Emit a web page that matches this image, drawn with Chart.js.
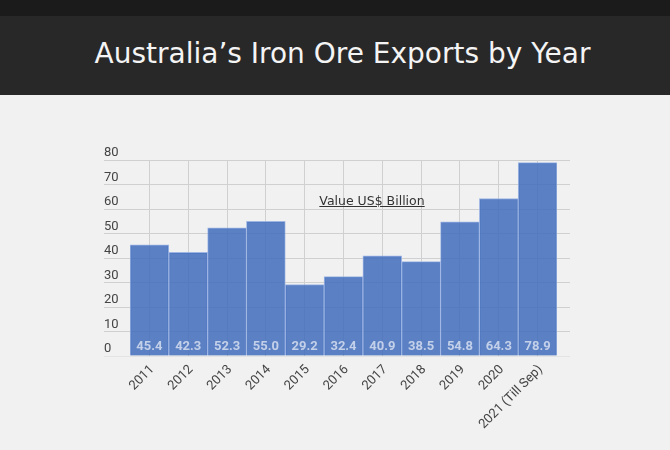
<!DOCTYPE html>
<html>
<head>
<meta charset="utf-8">
<script src="https://cdn.jsdelivr.net/npm/chart.js@4.4.0/dist/chart.umd.min.js"></script>
<style>
html, body { margin: 0; padding: 0; }
body { width: 670px; height: 450px; background: #f1f1f1; position: relative; overflow: hidden; }
#topbar { position: absolute; left: 0; top: 0; width: 670px; height: 16px; background: #1b1b1b; }
#header { position: absolute; left: 0; top: 16px; width: 670px; height: 79px; background: #282828; }
#header h1 { margin: 0; padding-left: 15px; color: #f4f4f4; font: 400 28px "DejaVu Sans", sans-serif; text-align: center; line-height: 76px; }
#chart { position: absolute; left: 0; top: 0; }
#subtitle { position: absolute; left: 272px; width: 200px; top: 193px; text-align: center; font: 12.5px "DejaVu Sans", sans-serif; color: #333; text-decoration: underline; }
</style>
</head>
<body>
<div id="topbar"></div>
<div id="header"><h1>Australia’s Iron Ore Exports by Year</h1></div>
<canvas id="chart" width="670" height="450"></canvas>
<div id="subtitle">Value US$ Billion</div>
<script>
var years = ['2011', '2012', '2013', '2014', '2015', '2016', '2017', '2018', '2019', '2020', '2021 (Till Sep)'];
var exportValues = [45.4, 42.3, 52.3, 55.0, 29.2, 32.4, 40.9, 38.5, 54.8, 64.3, 78.9];
var yMin = 0, yMax = 80, yStep = 10;

var gridColor = function (c) {
    return c.tick && c.tick.value === 0 ? '#e3e3e3' : '#d0d0d0';
};

// value labels at the foot of each bar
var valueLabels = {
    id: 'valueLabels',
    afterDatasetsDraw: function (chart) {
        var c = chart.ctx;
        var meta = chart.getDatasetMeta(0);
        var base = chart.scales.y.getPixelForValue(0);
        c.save();
        c.font = 'bold 13px Roboto';
        c.fillStyle = 'rgba(214,222,240,0.85)';
        c.textAlign = 'center';
        c.textBaseline = 'middle';
        meta.data.forEach(function (bar, i) {
            c.fillText(exportValues[i].toFixed(1), bar.x, base - 9);
        });
        c.restore();
    }
};

var ctx = document.getElementById('chart').getContext('2d');
new Chart(ctx, {
    type: 'bar',
    data: {
        labels: years,
        datasets: [{
            label: 'Value US$ Billion',
            data: exportValues,
            backgroundColor: 'rgba(62,106,186,0.84)',
            borderColor: 'rgba(150,175,225,0.9)',
            borderWidth: 1,
            categoryPercentage: 1,
            barPercentage: 1
        }]
    },
    options: {
        responsive: false,
        animation: false,
        layout: { padding: { left: 104, right: 100, top: 160, bottom: 0 } },
        plugins: { legend: { display: false }, tooltip: { enabled: false } },
        scales: {
            x: {
                grid: { offset: false, color: '#d0d0d0', drawTicks: false },
                border: { display: false },
                ticks: { minRotation: 45, maxRotation: 45, autoSkip: false, labelOffset: 3, color: '#444', font: { family: 'Roboto', size: 13 }, padding: 6 },
                afterFit: function (s) { s.height = 94; }
            },
            y: {
                min: yMin, max: yMax,
                ticks: { stepSize: yStep, crossAlign: 'far', labelOffset: -7, color: '#444', font: { family: 'Roboto', size: 13 } },
                grid: { color: gridColor, tickLength: 26 },
                border: { display: false },
                afterFit: function (s) { s.width = 26; }
            },
            y2: {
                position: 'right',
                min: yMin, max: yMax,
                ticks: { display: false, stepSize: yStep },
                grid: { drawOnChartArea: false, color: gridColor, tickLength: 13 },
                border: { display: false },
                afterFit: function (s) { s.width = 13; }
            }
        }
    },
    plugins: [valueLabels]
});
</script>
</body>
</html>
